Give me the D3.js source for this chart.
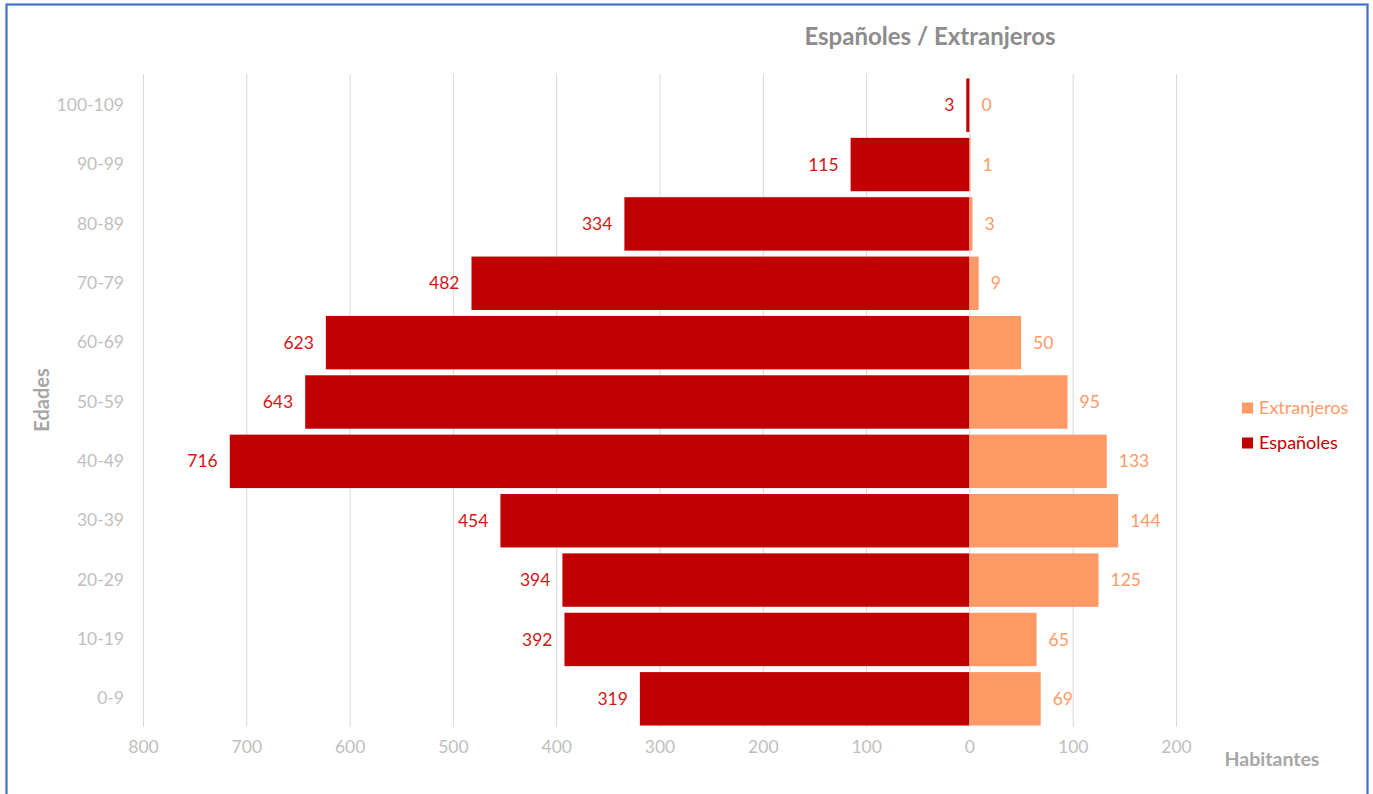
<!DOCTYPE html>
<html>
<head>
<meta charset="utf-8">
<script src="https://cdn.jsdelivr.net/npm/d3@7"></script>
<style>
html,body{margin:0;padding:0;background:#fff;}
svg{display:block;font-family:Lato,"Open Sans",sans-serif;}
</style>
</head>
<body>
<svg id="chart" width="1373" height="794"></svg>
<script>
const categories = ["100-109","90-99","80-89","70-79","60-69","50-59","40-49","30-39","20-29","10-19","0-9"];
const espanoles  = [3,115,334,482,623,643,716,454,394,392,319];
const extranjeros = [0,1,3,9,50,95,133,144,125,65,69];
const xTicks = [-800,-700,-600,-500,-400,-300,-200,-100,0,100,200];
const seriesNames = ["Extranjeros","Españoles"];
const colors = {"Españoles":"#C00000","Extranjeros":"#FF9966"};
const labelColors = {"Españoles":"#D01818","Extranjeros":"#FF9966"};

const svg = d3.select("#chart");

// outer border
svg.append("rect").attr("x",6.5).attr("y",4.5).attr("width",1361).attr("height",800)
  .attr("fill","#fff").attr("stroke","#4472C4").attr("stroke-width",2.2);

const x = d3.scaleLinear().domain([-800,200]).range([143,1176]);
const y = d3.scaleBand().domain(categories).range([75.5,728.5]).paddingInner(0.1).paddingOuter(0.05);

// gridlines
svg.append("g").selectAll("line").data(xTicks).join("line")
  .attr("x1",d=>x(d)+0.5).attr("x2",d=>x(d)+0.5)
  .attr("y1",74).attr("y2",727)
  .attr("stroke","#D9D9D9").attr("stroke-width",1);

// x axis labels
const xAxis = d3.axisBottom(x).tickValues(xTicks).tickFormat(d=>Math.abs(d)).tickSize(0).tickPadding(0);
const gx = svg.append("g").attr("transform","translate(0,741)").call(xAxis);
gx.select(".domain").remove();
gx.selectAll("text").attr("font-size",17.5).attr("fill","#BFBFBF").attr("font-family","Lato");

// y axis labels
const yAxis = d3.axisLeft(y).tickSize(0).tickPadding(0);
const gy = svg.append("g").attr("transform","translate(124,0)").call(yAxis);
gy.select(".domain").remove();
gy.selectAll("text").attr("font-size",17.5).attr("fill","#BFBFBF").attr("font-family","Lato");

const rows = categories.map((c,i)=>({cat:c, esp:espanoles[i], ext:extranjeros[i]}));

// bars
svg.append("g").selectAll("rect").data(rows).join("rect")
  .attr("x",d=>x(-d.esp)).attr("width",d=>x(0)-x(-d.esp))
  .attr("y",d=>y(d.cat)).attr("height",y.bandwidth())
  .attr("fill",colors["Españoles"]);
svg.append("g").selectAll("rect").data(rows).join("rect")
  .attr("x",x(0)).attr("width",d=>x(d.ext)-x(0))
  .attr("y",d=>y(d.cat)).attr("height",y.bandwidth())
  .attr("fill",colors["Extranjeros"]);

// data labels
svg.append("g").selectAll("text").data(rows).join("text")
  .attr("x",d=>x(-d.esp)-12).attr("y",d=>y(d.cat)+y.bandwidth()/2)
  .attr("dy","0.35em").attr("text-anchor","end")
  .attr("font-size",17.5).attr("fill",labelColors["Españoles"])
  .text(d=>d.esp);
svg.append("g").selectAll("text").data(rows).join("text")
  .attr("x",d=>x(d.ext)+12).attr("y",d=>y(d.cat)+y.bandwidth()/2)
  .attr("dy","0.35em").attr("text-anchor","start")
  .attr("font-size",17.5).attr("fill",labelColors["Extranjeros"])
  .text(d=>d.ext);

// title
svg.append("text").attr("x",930).attr("y",37).attr("dy","0.35em")
  .attr("text-anchor","middle").attr("font-size",24).attr("font-weight","bold")
  .attr("fill","#8C8C8C").text("Españoles / Extranjeros");

// axis titles
svg.append("text").attr("transform","translate(42,400) rotate(-90)").attr("dy","0.35em")
  .attr("text-anchor","middle").attr("font-size",20).attr("font-weight","bold")
  .attr("fill","#A6A6A6").text("Edades");
svg.append("text").attr("x",1272).attr("y",759).attr("dy","0.35em")
  .attr("text-anchor","middle").attr("font-size",19.5).attr("font-weight","bold")
  .attr("fill","#A6A6A6").text("Habitantes");

// legend
const leg = svg.append("g").selectAll("g").data(seriesNames).join("g")
  .attr("transform",(d,i)=>`translate(1242,${408+i*35})`);
leg.append("rect").attr("x",0).attr("y",-5.5).attr("width",11).attr("height",11)
  .attr("fill",d=>colors[d]);
leg.append("text").attr("x",17).attr("y",0).attr("dy","0.35em")
  .attr("font-size",18).attr("fill",d=>d==="Españoles"?"#C00000":"#FF9966").text(d=>d);
</script>
</body>
</html>
